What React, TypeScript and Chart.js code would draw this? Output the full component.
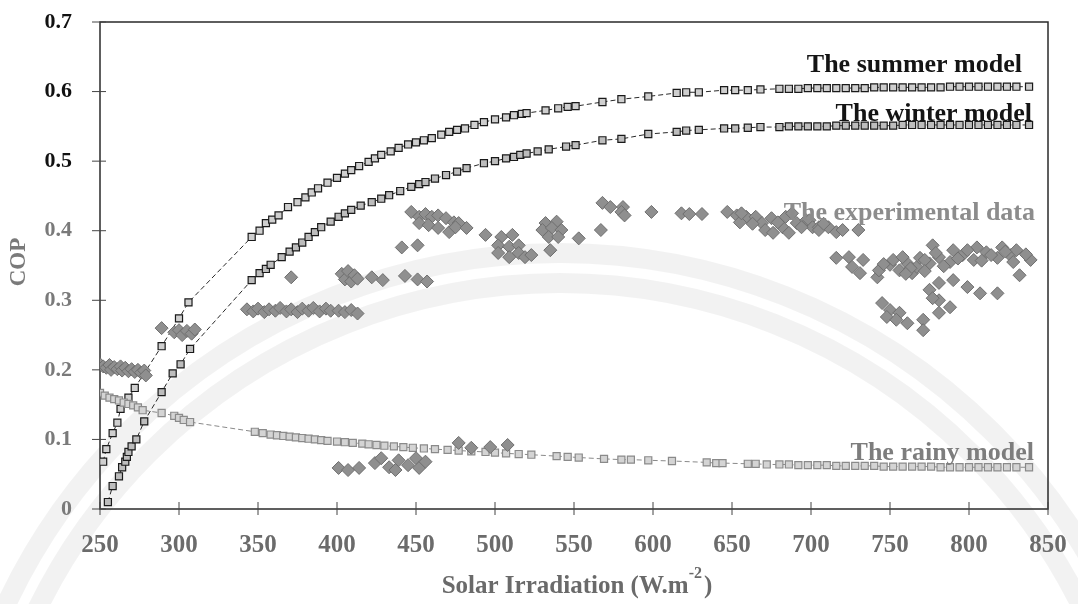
import React, { useEffect, useRef } from 'react';
import { Chart, registerables } from 'chart.js';

Chart.register(...registerables);

const SERIF = "'Liberation Serif', 'Times New Roman', serif";

// Axis ticks
const X_MIN = 250;
const X_MAX = 850;
const X_STEP = 50;
const Y_TICK_LABELS = ['0', '0.1', '0.2', '0.3', '0.4', '0.5', '0.6', '0.7'];

// Series labels
const SERIES_NAMES = ['The summer model', 'The winter model', 'The experimental data', 'The rainy model'];

// The summer model (COP vs solar irradiation)
const SUMMER_X = [252, 254, 258, 261, 263, 268, 272, 289, 300, 306, 346, 351, 355, 359, 363, 369, 375, 380, 384, 388, 394, 400, 405, 409, 414, 420, 424, 428, 434, 439, 445, 450, 455, 460, 466, 471, 476, 481, 487, 493, 500, 507, 512, 517, 520, 532, 540, 546, 551, 568, 580, 597, 615, 621, 629, 645, 652, 660, 668, 680, 686, 692, 698, 704, 710, 716, 722, 728, 734, 740, 746, 752, 758, 764, 770, 776, 782, 788, 794, 800, 806, 812, 818, 824, 830, 838];
const SUMMER_Y = [0.068, 0.086, 0.109, 0.124, 0.144, 0.160, 0.174, 0.234, 0.274, 0.297, 0.391, 0.400, 0.411, 0.416, 0.422, 0.434, 0.441, 0.448, 0.455, 0.461, 0.469, 0.476, 0.482, 0.487, 0.493, 0.499, 0.504, 0.509, 0.514, 0.519, 0.524, 0.527, 0.530, 0.533, 0.538, 0.542, 0.545, 0.547, 0.552, 0.556, 0.560, 0.563, 0.566, 0.568, 0.569, 0.573, 0.576, 0.578, 0.579, 0.585, 0.589, 0.593, 0.598, 0.599, 0.599, 0.602, 0.602, 0.602, 0.603, 0.604, 0.604, 0.604, 0.605, 0.605, 0.605, 0.605, 0.605, 0.605, 0.605, 0.606, 0.606, 0.606, 0.606, 0.606, 0.606, 0.606, 0.606, 0.607, 0.607, 0.607, 0.607, 0.607, 0.607, 0.607, 0.607, 0.607];

// The winter model
const WINTER_X = [255, 258, 262, 264, 266, 267, 268, 270, 273, 278, 289, 296, 301, 307, 346, 351, 355, 358, 365, 370, 374, 378, 382, 386, 390, 396, 401, 405, 409, 415, 422, 428, 433, 440, 447, 452, 456, 462, 469, 476, 482, 493, 500, 507, 512, 516, 520, 527, 534, 545, 551, 568, 580, 597, 615, 621, 629, 645, 652, 660, 668, 680, 686, 692, 698, 704, 710, 716, 722, 728, 734, 740, 746, 752, 758, 764, 770, 776, 782, 788, 794, 800, 806, 812, 818, 824, 830, 838];
const WINTER_Y = [0.010, 0.033, 0.047, 0.060, 0.068, 0.075, 0.082, 0.090, 0.100, 0.126, 0.168, 0.195, 0.208, 0.230, 0.329, 0.339, 0.345, 0.351, 0.362, 0.370, 0.376, 0.383, 0.391, 0.398, 0.405, 0.413, 0.420, 0.425, 0.430, 0.436, 0.441, 0.446, 0.451, 0.457, 0.463, 0.467, 0.470, 0.475, 0.480, 0.485, 0.490, 0.497, 0.500, 0.504, 0.506, 0.509, 0.511, 0.514, 0.517, 0.521, 0.523, 0.530, 0.532, 0.539, 0.542, 0.544, 0.545, 0.547, 0.547, 0.548, 0.549, 0.549, 0.550, 0.550, 0.550, 0.550, 0.550, 0.551, 0.551, 0.551, 0.551, 0.551, 0.551, 0.551, 0.552, 0.552, 0.552, 0.552, 0.552, 0.552, 0.552, 0.552, 0.552, 0.552, 0.552, 0.552, 0.552, 0.552];

// The rainy model
const RAINY_X = [250, 253, 256, 259, 262, 265, 268, 271, 274, 277, 289, 297, 300, 303, 307, 348, 353, 358, 362, 366, 370, 374, 378, 382, 386, 390, 394, 400, 405, 410, 416, 420, 425, 430, 436, 442, 448, 455, 462, 470, 477, 485, 494, 500, 507, 515, 523, 539, 546, 553, 569, 580, 586, 597, 612, 634, 640, 644, 660, 665, 672, 680, 686, 692, 698, 704, 710, 716, 722, 728, 734, 740, 746, 752, 758, 764, 770, 776, 782, 788, 794, 800, 806, 812, 818, 824, 830, 838];
const RAINY_Y = [0.167, 0.163, 0.160, 0.158, 0.156, 0.153, 0.151, 0.149, 0.146, 0.142, 0.138, 0.134, 0.131, 0.128, 0.125, 0.111, 0.109, 0.107, 0.106, 0.105, 0.104, 0.103, 0.102, 0.101, 0.100, 0.099, 0.098, 0.097, 0.096, 0.095, 0.094, 0.093, 0.092, 0.091, 0.090, 0.089, 0.088, 0.087, 0.086, 0.085, 0.084, 0.083, 0.082, 0.081, 0.080, 0.079, 0.078, 0.076, 0.075, 0.074, 0.072, 0.071, 0.071, 0.070, 0.069, 0.067, 0.066, 0.066, 0.065, 0.065, 0.064, 0.064, 0.064, 0.063, 0.063, 0.063, 0.063, 0.062, 0.062, 0.062, 0.062, 0.062, 0.061, 0.061, 0.061, 0.061, 0.061, 0.061, 0.060, 0.060, 0.060, 0.060, 0.060, 0.060, 0.060, 0.060, 0.060, 0.060];

// The experimental data (measured COP)
const EXP_X = [
  250, 252, 254, 256, 257, 259, 261, 263, 264, 266, 268, 270, 272, 274, 276, 278, 279,
  289, 297, 300, 302, 305, 308, 310,
  343, 347, 350, 354, 357, 361, 364, 368, 371, 375, 378, 382, 385, 389, 393, 396, 401, 405, 409, 413,
  371, 403, 405, 407, 409, 411, 413, 422, 429, 443, 451, 457, 441, 451,
  447, 452, 456, 460, 464, 469, 474, 477, 452, 458, 464, 471, 475, 482, 494,
  504, 511, 502, 509, 515, 502, 509, 515, 519, 523,
  532, 539, 530, 536, 542, 534, 540, 535, 553, 567,
  568, 573, 581, 580, 582, 599, 618, 623, 631, 647, 653, 659, 655,
  656, 665, 669, 671, 675, 676, 682, 684, 686, 691, 697, 699, 701, 705, 705, 711, 716, 730,
  663, 679, 694, 708, 720, 688,
  716, 724, 733, 726, 731,
  742, 743, 750, 752, 756, 761, 764, 767, 769, 775, 777, 781, 788, 790, 796, 803, 805, 811, 818, 821, 826, 830, 832, 839,
  746, 758, 763, 772, 779, 784, 793, 799, 808, 814, 823, 828, 836, 760, 772,
  775, 781, 790, 799, 807, 818, 781, 788, 781, 777,
  745, 750, 756, 748, 754, 761, 771, 771,
  401, 407, 414, 424, 428, 433, 439, 437, 445, 450, 452, 456, 477, 485, 497, 508,
];
const EXP_Y = [
  0.208, 0.205, 0.203, 0.207, 0.200, 0.204, 0.201, 0.205, 0.199, 0.203, 0.198, 0.201, 0.197, 0.200, 0.196, 0.199, 0.192,
  0.260, 0.254, 0.257, 0.250, 0.256, 0.252, 0.258,
  0.287, 0.284, 0.288, 0.283, 0.287, 0.285, 0.289, 0.284, 0.287, 0.283, 0.288, 0.285, 0.289, 0.284, 0.288, 0.285, 0.285, 0.283, 0.286, 0.281,
  0.333, 0.338, 0.330, 0.342, 0.327, 0.336, 0.331, 0.333, 0.329, 0.335, 0.330, 0.327, 0.376, 0.379,
  0.427, 0.420, 0.424, 0.420, 0.422, 0.418, 0.412, 0.411, 0.411, 0.408, 0.404, 0.398, 0.405, 0.404, 0.394,
  0.391, 0.394, 0.379, 0.377, 0.379, 0.368, 0.362, 0.368, 0.362, 0.365,
  0.411, 0.413, 0.401, 0.404, 0.401, 0.391, 0.391, 0.372, 0.389, 0.401,
  0.440, 0.434, 0.434, 0.427, 0.422, 0.427, 0.425, 0.424, 0.424, 0.427, 0.422, 0.420, 0.412,
  0.425, 0.420, 0.411, 0.401, 0.418, 0.397, 0.405, 0.420, 0.397, 0.411, 0.415, 0.415, 0.405, 0.405, 0.401, 0.405, 0.398, 0.401,
  0.410, 0.412, 0.405, 0.410, 0.401, 0.425,
  0.361, 0.362, 0.358, 0.348, 0.339,
  0.333, 0.343, 0.351, 0.358, 0.343, 0.353, 0.339, 0.348, 0.361, 0.353, 0.379, 0.362, 0.355, 0.372, 0.365, 0.358, 0.376, 0.369, 0.361, 0.376, 0.365, 0.372, 0.336, 0.358,
  0.352, 0.362, 0.346, 0.358, 0.368, 0.349, 0.360, 0.372, 0.357, 0.365, 0.370, 0.355, 0.366, 0.338, 0.342,
  0.315, 0.325, 0.329, 0.319, 0.310, 0.310, 0.300, 0.290, 0.282, 0.303,
  0.296, 0.286, 0.282, 0.276, 0.272, 0.267, 0.272, 0.257,
  0.059, 0.056, 0.059, 0.066, 0.073, 0.060, 0.070, 0.056, 0.063, 0.073, 0.059, 0.068, 0.095, 0.088, 0.089, 0.092,
];

const toPoints = (xs: number[], ys: number[]) =>
  xs.slice(0, Math.min(xs.length, ys.length)).map((x, i) => ({ x, y: ys[i] }));

// Background emblem, plot frame with crossing ticks, curve labels and axis titles
const decorPlugin = {
  id: 'decor',
  beforeDraw(chart: any) {
    const { ctx, width, height } = chart;
    ctx.save();
    ctx.fillStyle = '#ffffff';
    ctx.fillRect(0, 0, width, height);
    ctx.strokeStyle = 'rgba(0,0,0,0.05)';
    ctx.lineWidth = 20;
    [612, 582].forEach((r) => {
      ctx.beginPath();
      ctx.arc(560, 865, r, 0, Math.PI * 2);
      ctx.stroke();
    });
    ctx.restore();
  },
  beforeDatasetsDraw(chart: any) {
    const { ctx, chartArea: a, scales } = chart;
    ctx.save();
    ctx.strokeStyle = '#2a2a2a';
    ctx.lineWidth = 1.5;
    ctx.strokeRect(a.left, a.top, a.right - a.left, a.bottom - a.top);
    ctx.lineWidth = 1;
    ctx.strokeStyle = '#444';
    scales.y.ticks.forEach((t: any) => {
      const y = scales.y.getPixelForValue(t.value);
      ctx.beginPath();
      ctx.moveTo(a.left - 8, y);
      ctx.lineTo(a.left + 6, y);
      ctx.stroke();
    });
    scales.x.ticks.forEach((t: any) => {
      const x = scales.x.getPixelForValue(t.value);
      ctx.beginPath();
      ctx.moveTo(x, a.bottom - 7);
      ctx.lineTo(x, a.bottom + 6);
      ctx.stroke();
    });
    ctx.restore();
  },
  afterDraw(chart: any) {
    const { ctx } = chart;
    ctx.save();
    ctx.textAlign = 'right';
    ctx.textBaseline = 'alphabetic';
    ctx.font = `bold 26px ${SERIF}`;
    const labels: [string, number, number, string][] = [
      [SERIES_NAMES[0], 1022, 72, '#141414'],
      [SERIES_NAMES[1], 1032, 121, '#141414'],
      [SERIES_NAMES[2], 1035, 220, '#8c8c8c'],
      [SERIES_NAMES[3], 1034, 460, '#7d7d7d'],
    ];
    labels.forEach(([text, x, y, color]) => {
      ctx.fillStyle = color;
      ctx.fillText(text, x, y);
    });

    // y-axis title
    ctx.save();
    ctx.translate(19, 262);
    ctx.rotate(-Math.PI / 2);
    ctx.textAlign = 'center';
    ctx.textBaseline = 'middle';
    ctx.fillStyle = '#7a7a7a';
    ctx.font = `bold 23px ${SERIF}`;
    ctx.fillText('COP', 0, 0);
    ctx.restore();

    // x-axis title with superscript unit exponent
    const main = 'Solar Irradiation (W.m';
    const sup = '-2';
    const tail = ')';
    ctx.textAlign = 'left';
    ctx.fillStyle = '#6a6a6a';
    ctx.font = `bold 25px ${SERIF}`;
    const wMain = ctx.measureText(main).width;
    const wTail = ctx.measureText(tail).width;
    ctx.font = `bold 16px ${SERIF}`;
    const wSup = ctx.measureText(sup).width;
    const total = wMain + wSup + wTail + 2;
    let x = 577 - total / 2;
    const base = 593;
    ctx.font = `bold 25px ${SERIF}`;
    ctx.fillText(main, x, base);
    x += wMain;
    ctx.font = `bold 16px ${SERIF}`;
    ctx.fillText(sup, x, base - 15);
    x += wSup + 2;
    ctx.font = `bold 25px ${SERIF}`;
    ctx.fillText(tail, x, base);
    ctx.restore();
  },
};

export default function App() {
  const canvasRef = useRef<HTMLCanvasElement>(null);

  useEffect(() => {
    document.body.style.margin = '0';
    const canvas = canvasRef.current;
    if (!canvas) return;

    const modelLine = {
      showLine: true,
      borderWidth: 1,
      borderDash: [5, 3],
      pointStyle: 'rect' as const,
      pointRadius: 5,
      pointBorderWidth: 1.2,
    };

    const chart = new Chart(canvas, {
      type: 'scatter',
      data: {
        datasets: [
          {
            label: SERIES_NAMES[2],
            data: toPoints(EXP_X, EXP_Y),
            pointStyle: 'rectRot',
            pointRadius: 6.5,
            backgroundColor: '#8f8f8f',
            borderColor: '#6f6f6f',
            pointBorderWidth: 1,
          },
          {
            ...modelLine,
            label: SERIES_NAMES[3],
            data: toPoints(RAINY_X, RAINY_Y),
            borderColor: '#8a8a8a',
            backgroundColor: '#d4d4d4',
            pointBorderColor: '#8a8a8a',
          },
          {
            ...modelLine,
            label: SERIES_NAMES[1],
            data: toPoints(WINTER_X, WINTER_Y),
            borderColor: '#2a2a2a',
            backgroundColor: '#bdbdbd',
            pointBorderColor: '#1a1a1a',
          },
          {
            ...modelLine,
            label: SERIES_NAMES[0],
            data: toPoints(SUMMER_X, SUMMER_Y),
            borderColor: '#2a2a2a',
            backgroundColor: '#cfcfcf',
            pointBorderColor: '#1a1a1a',
          },
        ],
      },
      options: {
        animation: false,
        responsive: true,
        maintainAspectRatio: false,
        layout: { padding: { left: 0, right: 30, top: 22, bottom: 0 } },
        plugins: {
          legend: { display: false },
          tooltip: { enabled: false },
          title: { display: false },
        },
        scales: {
          x: {
            type: 'linear',
            min: X_MIN,
            max: X_MAX,
            border: { display: false },
            grid: { display: false, drawTicks: false },
            ticks: {
              stepSize: X_STEP,
              padding: 22,
              color: '#6b6b6b',
              font: { family: SERIF, size: 25, weight: 'bold' },
              callback: (v: any) => String(v),
            },
            afterFit: (s: any) => {
              s.height = 95;
              s.paddingLeft = 0;
              s.paddingRight = 0;
            },
          },
          y: {
            type: 'linear',
            min: 0,
            max: 0.7,
            border: { display: false },
            grid: { display: false, drawTicks: false },
            ticks: {
              stepSize: 0.1,
              padding: 28,
              color: (c: any) => (c.tick && c.tick.value > 0.45 ? '#111111' : '#7a7a7a'),
              font: { family: SERIF, size: 22, weight: 'bold' },
              callback: (v: any) => Y_TICK_LABELS[Math.round(Number(v) * 10)] ?? '',
            },
            afterFit: (s: any) => {
              s.width = 100;
              s.paddingTop = 0;
              s.paddingBottom = 0;
            },
          },
        },
      },
      plugins: [decorPlugin],
    });

    return () => chart.destroy();
  }, []);

  return (
    <div style={{ position: 'relative', width: 1078, height: 604 }}>
      <canvas ref={canvasRef} />
    </div>
  );
}
